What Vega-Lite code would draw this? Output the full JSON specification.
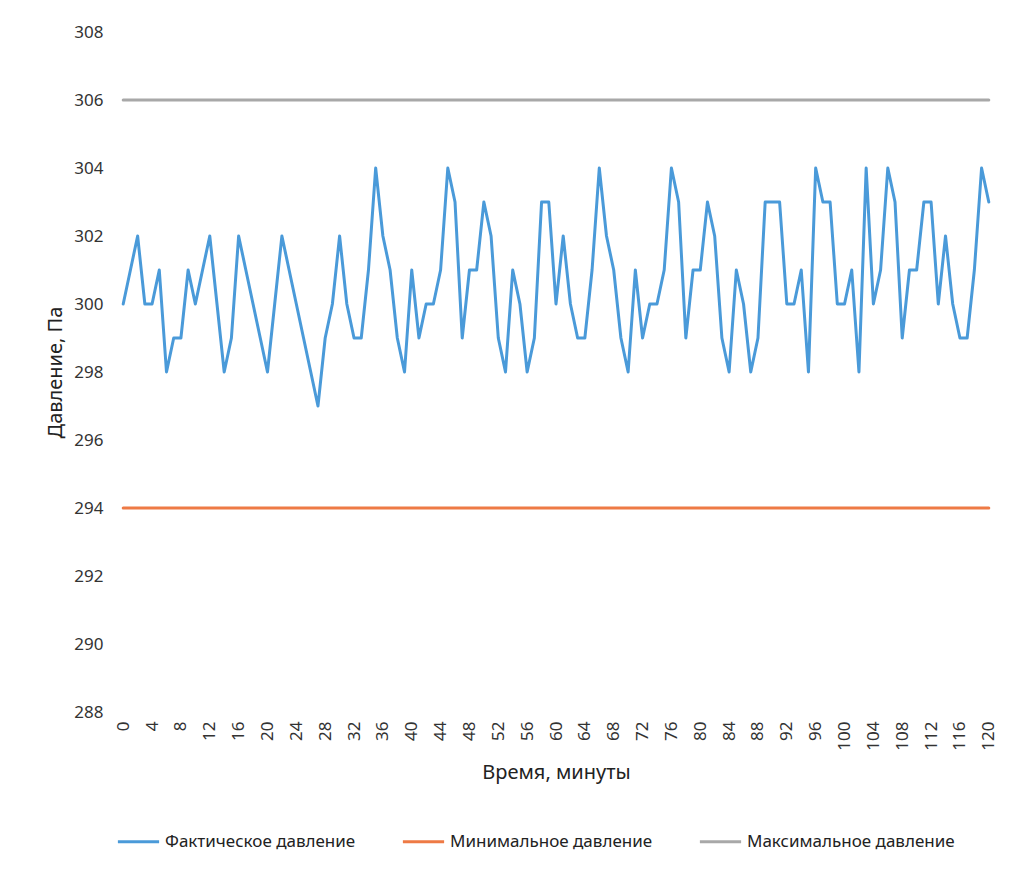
{
  "$schema": "https://vega.github.io/schema/vega-lite/v6.json",
  "width": 880,
  "height": 680,
  "autosize": {"type": "none"},
  "padding": {"left": 116, "top": 32, "right": 19, "bottom": 158},
  "background": "white",
  "config": {
    "view": {"stroke": null},
    "font": "Noto Sans",
    "axis": {"labelColor": "#333333", "titleColor": "#222222", "labelFont": "Noto Sans", "titleFont": "Noto Sans", "titleFontWeight": "normal"},
    "legend": {"labelFont": "Noto Sans", "labelColor": "#222222"}
  },
  "data": {
    "values": [
      {"t": 0, "fact": 300, "min": 294, "max": 306},
      {"t": 1, "fact": 301, "min": 294, "max": 306},
      {"t": 2, "fact": 302, "min": 294, "max": 306},
      {"t": 3, "fact": 300, "min": 294, "max": 306},
      {"t": 4, "fact": 300, "min": 294, "max": 306},
      {"t": 5, "fact": 301, "min": 294, "max": 306},
      {"t": 6, "fact": 298, "min": 294, "max": 306},
      {"t": 7, "fact": 299, "min": 294, "max": 306},
      {"t": 8, "fact": 299, "min": 294, "max": 306},
      {"t": 9, "fact": 301, "min": 294, "max": 306},
      {"t": 10, "fact": 300, "min": 294, "max": 306},
      {"t": 11, "fact": 301, "min": 294, "max": 306},
      {"t": 12, "fact": 302, "min": 294, "max": 306},
      {"t": 13, "fact": 300, "min": 294, "max": 306},
      {"t": 14, "fact": 298, "min": 294, "max": 306},
      {"t": 15, "fact": 299, "min": 294, "max": 306},
      {"t": 16, "fact": 302, "min": 294, "max": 306},
      {"t": 17, "fact": 301, "min": 294, "max": 306},
      {"t": 18, "fact": 300, "min": 294, "max": 306},
      {"t": 19, "fact": 299, "min": 294, "max": 306},
      {"t": 20, "fact": 298, "min": 294, "max": 306},
      {"t": 21, "fact": 300, "min": 294, "max": 306},
      {"t": 22, "fact": 302, "min": 294, "max": 306},
      {"t": 23, "fact": 301, "min": 294, "max": 306},
      {"t": 24, "fact": 300, "min": 294, "max": 306},
      {"t": 25, "fact": 299, "min": 294, "max": 306},
      {"t": 26, "fact": 298, "min": 294, "max": 306},
      {"t": 27, "fact": 297, "min": 294, "max": 306},
      {"t": 28, "fact": 299, "min": 294, "max": 306},
      {"t": 29, "fact": 300, "min": 294, "max": 306},
      {"t": 30, "fact": 302, "min": 294, "max": 306},
      {"t": 31, "fact": 300, "min": 294, "max": 306},
      {"t": 32, "fact": 299, "min": 294, "max": 306},
      {"t": 33, "fact": 299, "min": 294, "max": 306},
      {"t": 34, "fact": 301, "min": 294, "max": 306},
      {"t": 35, "fact": 304, "min": 294, "max": 306},
      {"t": 36, "fact": 302, "min": 294, "max": 306},
      {"t": 37, "fact": 301, "min": 294, "max": 306},
      {"t": 38, "fact": 299, "min": 294, "max": 306},
      {"t": 39, "fact": 298, "min": 294, "max": 306},
      {"t": 40, "fact": 301, "min": 294, "max": 306},
      {"t": 41, "fact": 299, "min": 294, "max": 306},
      {"t": 42, "fact": 300, "min": 294, "max": 306},
      {"t": 43, "fact": 300, "min": 294, "max": 306},
      {"t": 44, "fact": 301, "min": 294, "max": 306},
      {"t": 45, "fact": 304, "min": 294, "max": 306},
      {"t": 46, "fact": 303, "min": 294, "max": 306},
      {"t": 47, "fact": 299, "min": 294, "max": 306},
      {"t": 48, "fact": 301, "min": 294, "max": 306},
      {"t": 49, "fact": 301, "min": 294, "max": 306},
      {"t": 50, "fact": 303, "min": 294, "max": 306},
      {"t": 51, "fact": 302, "min": 294, "max": 306},
      {"t": 52, "fact": 299, "min": 294, "max": 306},
      {"t": 53, "fact": 298, "min": 294, "max": 306},
      {"t": 54, "fact": 301, "min": 294, "max": 306},
      {"t": 55, "fact": 300, "min": 294, "max": 306},
      {"t": 56, "fact": 298, "min": 294, "max": 306},
      {"t": 57, "fact": 299, "min": 294, "max": 306},
      {"t": 58, "fact": 303, "min": 294, "max": 306},
      {"t": 59, "fact": 303, "min": 294, "max": 306},
      {"t": 60, "fact": 300, "min": 294, "max": 306},
      {"t": 61, "fact": 302, "min": 294, "max": 306},
      {"t": 62, "fact": 300, "min": 294, "max": 306},
      {"t": 63, "fact": 299, "min": 294, "max": 306},
      {"t": 64, "fact": 299, "min": 294, "max": 306},
      {"t": 65, "fact": 301, "min": 294, "max": 306},
      {"t": 66, "fact": 304, "min": 294, "max": 306},
      {"t": 67, "fact": 302, "min": 294, "max": 306},
      {"t": 68, "fact": 301, "min": 294, "max": 306},
      {"t": 69, "fact": 299, "min": 294, "max": 306},
      {"t": 70, "fact": 298, "min": 294, "max": 306},
      {"t": 71, "fact": 301, "min": 294, "max": 306},
      {"t": 72, "fact": 299, "min": 294, "max": 306},
      {"t": 73, "fact": 300, "min": 294, "max": 306},
      {"t": 74, "fact": 300, "min": 294, "max": 306},
      {"t": 75, "fact": 301, "min": 294, "max": 306},
      {"t": 76, "fact": 304, "min": 294, "max": 306},
      {"t": 77, "fact": 303, "min": 294, "max": 306},
      {"t": 78, "fact": 299, "min": 294, "max": 306},
      {"t": 79, "fact": 301, "min": 294, "max": 306},
      {"t": 80, "fact": 301, "min": 294, "max": 306},
      {"t": 81, "fact": 303, "min": 294, "max": 306},
      {"t": 82, "fact": 302, "min": 294, "max": 306},
      {"t": 83, "fact": 299, "min": 294, "max": 306},
      {"t": 84, "fact": 298, "min": 294, "max": 306},
      {"t": 85, "fact": 301, "min": 294, "max": 306},
      {"t": 86, "fact": 300, "min": 294, "max": 306},
      {"t": 87, "fact": 298, "min": 294, "max": 306},
      {"t": 88, "fact": 299, "min": 294, "max": 306},
      {"t": 89, "fact": 303, "min": 294, "max": 306},
      {"t": 90, "fact": 303, "min": 294, "max": 306},
      {"t": 91, "fact": 303, "min": 294, "max": 306},
      {"t": 92, "fact": 300, "min": 294, "max": 306},
      {"t": 93, "fact": 300, "min": 294, "max": 306},
      {"t": 94, "fact": 301, "min": 294, "max": 306},
      {"t": 95, "fact": 298, "min": 294, "max": 306},
      {"t": 96, "fact": 304, "min": 294, "max": 306},
      {"t": 97, "fact": 303, "min": 294, "max": 306},
      {"t": 98, "fact": 303, "min": 294, "max": 306},
      {"t": 99, "fact": 300, "min": 294, "max": 306},
      {"t": 100, "fact": 300, "min": 294, "max": 306},
      {"t": 101, "fact": 301, "min": 294, "max": 306},
      {"t": 102, "fact": 298, "min": 294, "max": 306},
      {"t": 103, "fact": 304, "min": 294, "max": 306},
      {"t": 104, "fact": 300, "min": 294, "max": 306},
      {"t": 105, "fact": 301, "min": 294, "max": 306},
      {"t": 106, "fact": 304, "min": 294, "max": 306},
      {"t": 107, "fact": 303, "min": 294, "max": 306},
      {"t": 108, "fact": 299, "min": 294, "max": 306},
      {"t": 109, "fact": 301, "min": 294, "max": 306},
      {"t": 110, "fact": 301, "min": 294, "max": 306},
      {"t": 111, "fact": 303, "min": 294, "max": 306},
      {"t": 112, "fact": 303, "min": 294, "max": 306},
      {"t": 113, "fact": 300, "min": 294, "max": 306},
      {"t": 114, "fact": 302, "min": 294, "max": 306},
      {"t": 115, "fact": 300, "min": 294, "max": 306},
      {"t": 116, "fact": 299, "min": 294, "max": 306},
      {"t": 117, "fact": 299, "min": 294, "max": 306},
      {"t": 118, "fact": 301, "min": 294, "max": 306},
      {"t": 119, "fact": 304, "min": 294, "max": 306},
      {"t": 120, "fact": 303, "min": 294, "max": 306}
    ]
  },
  "transform": [
    {"fold": ["fact", "min", "max"], "as": ["series", "pressure"]}
  ],
  "mark": {"type": "line", "strokeWidth": 3, "strokeJoin": "round", "strokeCap": "round"},
  "encoding": {
    "x": {
      "field": "t",
      "type": "quantitative",
      "scale": {"domain": [-1, 121], "nice": false, "zero": false},
      "axis": {
        "title": "Время, минуты",
        "values": [0, 4, 8, 12, 16, 20, 24, 28, 32, 36, 40, 44, 48, 52, 56, 60, 64, 68, 72, 76, 80, 84, 88, 92, 96, 100, 104, 108, 112, 116, 120],
        "labelAngle": -90,
        "labelFontSize": 17,
        "labelPadding": 9,
        "ticks": false,
        "domain": false,
        "grid": false,
        "titleFontSize": 20,
        "titlePadding": 12
      }
    },
    "y": {
      "field": "pressure",
      "type": "quantitative",
      "scale": {"domain": [288, 308], "nice": false, "zero": false},
      "axis": {
        "title": "Давление, Па",
        "values": [288, 290, 292, 294, 296, 298, 300, 302, 304, 306, 308],
        "labelFontSize": 17,
        "labelPadding": 13,
        "ticks": false,
        "domain": false,
        "grid": false,
        "titleFontSize": 20,
        "titlePadding": 8
      }
    },
    "color": {
      "field": "series",
      "type": "nominal",
      "scale": {"domain": ["fact", "min", "max"], "range": ["#4a9ad9", "#ee7a45", "#a8a8a8"]},
      "legend": {
        "title": null,
        "orient": "bottom",
        "direction": "horizontal",
        "offset": 36,
        "symbolType": "stroke",
        "symbolSize": 1700,
        "symbolStrokeWidth": 3,
        "labelFontSize": 17,
        "labelLimit": 0,
        "labelOffset": 4,
        "columnPadding": 40,
        "labelExpr": "datum.value == 'fact' ? 'Фактическое давление' : datum.value == 'min' ? 'Минимальное давление' : 'Максимальное давление'"
      }
    },
    "order": {"field": "t", "type": "quantitative"}
  }
}
